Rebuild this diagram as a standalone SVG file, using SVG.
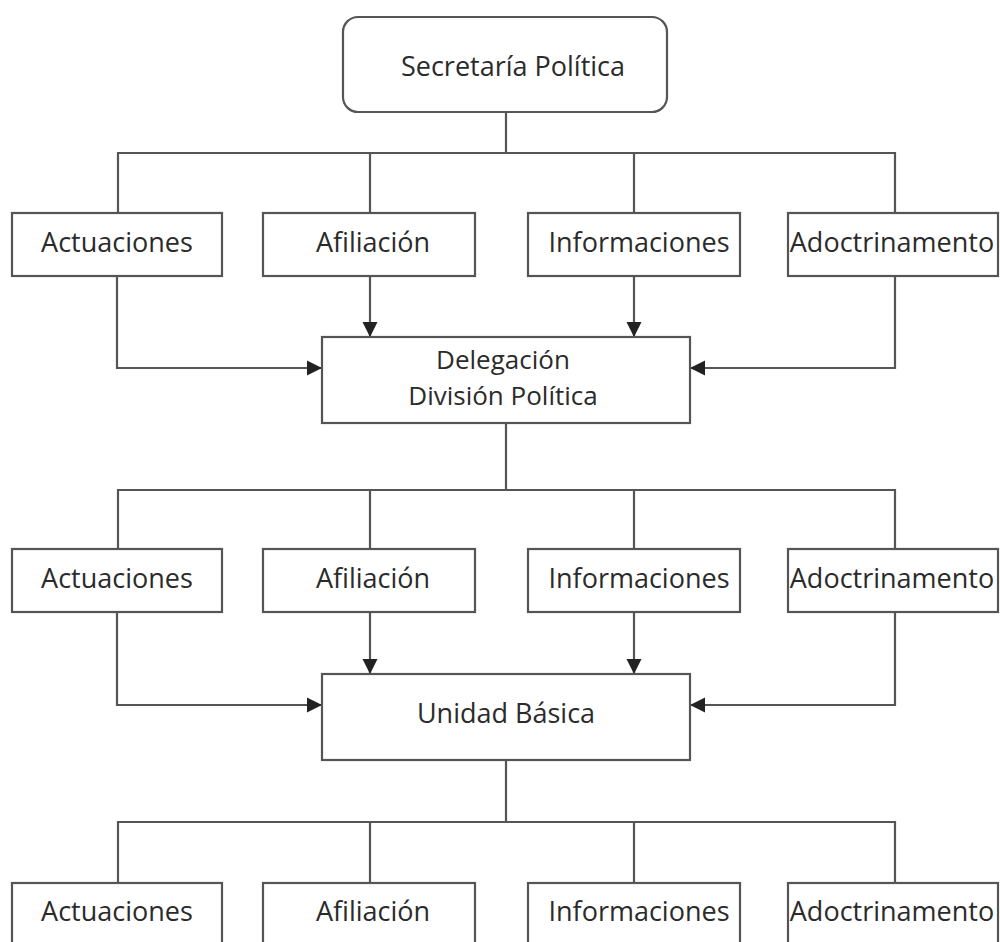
<svg xmlns="http://www.w3.org/2000/svg" width="1000" height="942" viewBox="0 0 1000 942">
<style>
.box{fill:#fff;stroke:#555;stroke-width:2.2}
.ln{fill:none;stroke:#555;stroke-width:2.2}
.ar{fill:none;stroke:#555;stroke-width:2.2;marker-end:url(#arr)}
text{font-family:"Open Sans","Noto Sans","Liberation Sans",sans-serif;font-size:27px;fill:#2b2b2b;text-anchor:middle}
.two{font-size:26px}
</style>
<defs>
<marker id="arr" viewBox="0 0 10 10" refX="10" refY="5" markerWidth="7" markerHeight="7" orient="auto" markerUnits="strokeWidth">
<path d="M0,0 L10,5 L0,10 z" fill="#222"/>
</marker>
</defs>
<rect width="1000" height="942" fill="#fff"/>
<g id="connectors">
<path class="ln" d="M506,112 V153 M118,213 V153 H895 V213 M370,153 V213 M634,153 V213"/>
<path class="ar" d="M117,276 V368 H322"/>
<path class="ar" d="M370,276 V337"/>
<path class="ar" d="M634,276 V337"/>
<path class="ar" d="M895,276 V368 H690"/>
<path class="ln" d="M506,423 V490 M118,549 V490 H895 V549 M370,490 V549 M634,490 V549"/>
<path class="ar" d="M117,612 V705 H322"/>
<path class="ar" d="M370,612 V674"/>
<path class="ar" d="M634,612 V674"/>
<path class="ar" d="M895,612 V705 H690"/>
<path class="ln" d="M506,760 V822 M118,883 V822 H895 V883 M370,822 V883 M634,822 V883"/>
</g>
<g id="secretaria">
<rect class="box" x="343" y="17" width="324" height="95" rx="15"/>
<text x="513" y="76">Secretaría Política</text>
</g>
<g id="r1-actuaciones"><rect class="box" x="12" y="213" width="210" height="63"/><text x="117" y="252">Actuaciones</text></g>
<g id="r1-afiliacion"><rect class="box" x="263" y="213" width="212" height="63"/><text x="373" y="252">Afiliación</text></g>
<g id="r1-informaciones"><rect class="box" x="528" y="213" width="212" height="63"/><text x="639" y="252">Informaciones</text></g>
<g id="r1-adoctrinamento"><rect class="box" x="788" y="213" width="210" height="63"/><text x="892" y="252">Adoctrinamento</text></g>
<g id="delegacion">
<rect class="box" x="322" y="337" width="368" height="86"/>
<text class="two" x="503" y="369">Delegación</text>
<text class="two" x="503" y="405">División Política</text>
</g>
<g id="r2-actuaciones"><rect class="box" x="12" y="549" width="210" height="63"/><text x="117" y="588">Actuaciones</text></g>
<g id="r2-afiliacion"><rect class="box" x="263" y="549" width="212" height="63"/><text x="373" y="588">Afiliación</text></g>
<g id="r2-informaciones"><rect class="box" x="528" y="549" width="212" height="63"/><text x="639" y="588">Informaciones</text></g>
<g id="r2-adoctrinamento"><rect class="box" x="788" y="549" width="210" height="63"/><text x="892" y="588">Adoctrinamento</text></g>
<g id="unidad">
<rect class="box" x="322" y="674" width="368" height="86"/>
<text x="506" y="723">Unidad Básica</text>
</g>
<g id="r3-actuaciones"><rect class="box" x="12" y="883" width="210" height="63"/><text x="117" y="921">Actuaciones</text></g>
<g id="r3-afiliacion"><rect class="box" x="263" y="883" width="212" height="63"/><text x="373" y="921">Afiliación</text></g>
<g id="r3-informaciones"><rect class="box" x="528" y="883" width="212" height="63"/><text x="639" y="921">Informaciones</text></g>
<g id="r3-adoctrinamento"><rect class="box" x="788" y="883" width="210" height="63"/><text x="892" y="921">Adoctrinamento</text></g>
</svg>
